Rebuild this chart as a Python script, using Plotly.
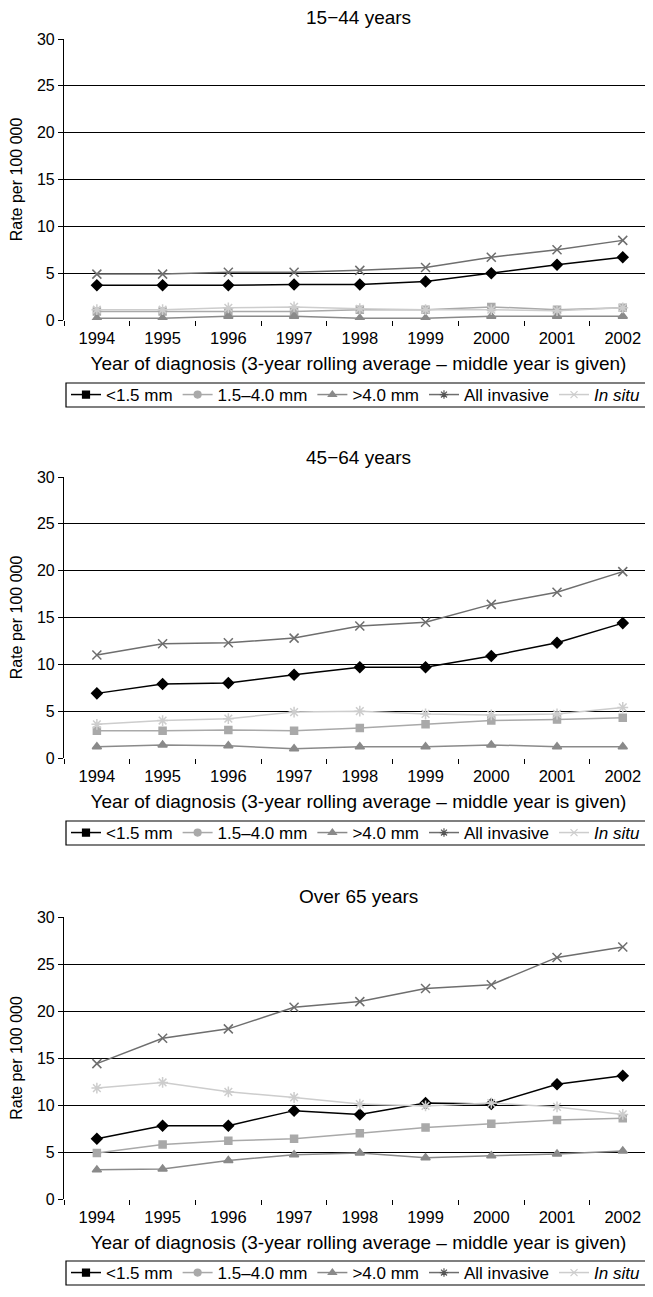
import plotly.graph_objects as go

years = ["1994", "1995", "1996", "1997", "1998", "1999", "2000", "2001", "2002"]
panel_titles = ["15\u221244 years", "45\u221264 years", "Over 65 years"]
series_names = ["<1.5 mm", "1.5\u20134.0 mm", ">4.0 mm", "All invasive", "<i>In situ</i>"]

# 15-44 years
p1_lt15 = [3.7, 3.7, 3.7, 3.8, 3.8, 4.1, 5.0, 5.9, 6.7]
p1_15to40 = [0.9, 0.9, 0.9, 0.9, 1.1, 1.1, 1.4, 1.1, 1.3]
p1_gt40 = [0.2, 0.2, 0.4, 0.4, 0.2, 0.2, 0.4, 0.4, 0.4]
p1_all = [4.9, 4.9, 5.1, 5.1, 5.3, 5.6, 6.7, 7.5, 8.5]
p1_insitu = [1.1, 1.1, 1.3, 1.4, 1.2, 1.1, 1.1, 1.0, 1.3]

# 45-64 years
p2_lt15 = [6.9, 7.9, 8.0, 8.9, 9.7, 9.7, 10.9, 12.3, 14.4]
p2_15to40 = [2.9, 2.9, 3.0, 2.9, 3.2, 3.6, 4.0, 4.1, 4.3]
p2_gt40 = [1.2, 1.4, 1.3, 1.0, 1.2, 1.2, 1.4, 1.2, 1.2]
p2_all = [11.0, 12.2, 12.3, 12.8, 14.1, 14.5, 16.4, 17.7, 19.9]
p2_insitu = [3.6, 4.0, 4.2, 4.9, 5.0, 4.7, 4.6, 4.7, 5.4]

# Over 65 years
p3_lt15 = [6.4, 7.8, 7.8, 9.4, 9.0, 10.2, 10.1, 12.2, 13.1]
p3_15to40 = [4.9, 5.8, 6.2, 6.4, 7.0, 7.6, 8.0, 8.4, 8.6]
p3_gt40 = [3.1, 3.2, 4.1, 4.7, 4.9, 4.4, 4.6, 4.8, 5.1]
p3_all = [14.4, 17.1, 18.1, 20.4, 21.0, 22.4, 22.8, 25.7, 26.8]
p3_insitu = [11.8, 12.4, 11.4, 10.8, 10.1, 9.9, 10.2, 9.8, 9.0]

panels = [
    [p1_lt15, p1_15to40, p1_gt40, p1_all, p1_insitu],
    [p2_lt15, p2_15to40, p2_gt40, p2_all, p2_insitu],
    [p3_lt15, p3_15to40, p3_gt40, p3_all, p3_insitu],
]

# styles for plotted lines (order: <1.5, 1.5-4.0, >4.0, all, in situ)
line_colors = ["#000000", "#a9a9a9", "#8a8a8a", "#6e6e6e", "#cdcdcd"]
plot_symbols = ["diamond", "square", "triangle-up", "x-thin-open", "asterisk-open"]
plot_sizes = [8, 7, 8, 9, 9]
# legend symbols as printed in the original legend
leg_colors = ["#000000", "#a9a9a9", "#8a8a8a", "#555555", "#cdcdcd"]
leg_symbols = ["square", "circle", "triangle-up", "asterisk-open", "x-thin-open"]

FONT = "Liberation Sans, Arial, sans-serif"
OFF = 8  # the page body margin shifts the figure by 8 px right and down
W = 653 - OFF
H = 1297 - OFF
# page pixel positions
tops = [39, 477, 917]
bottoms = [320, 758, 1199]
legend_boxes = [(383, 407), (821, 845), (1261, 1285)]
title_ys = [18, 457, 896]


def py(p):
    """page pixel row -> paper fraction"""
    return 1 - (p - OFF) / H


def px(p):
    """page pixel column -> paper fraction (plot area starts at page x=64)"""
    return (p - 64) / (W - (64 - OFF))


fig = go.Figure()
for i, data in enumerate(panels):
    ax = "" if i == 0 else str(i + 1)
    leg = "legend" if i == 0 else "legend" + str(i + 1)
    for j, vals in enumerate(data):
        fig.add_trace(go.Scatter(
            x=years, y=vals, mode="lines+markers",
            xaxis="x" + ax, yaxis="y" + ax, showlegend=False,
            line=dict(color=line_colors[j], width=1.5),
            marker=dict(symbol=plot_symbols[j], size=plot_sizes[j], color=line_colors[j],
                        line=dict(color=line_colors[j], width=1.5)),
        ))
    for j, name in enumerate(series_names):
        fig.add_trace(go.Scatter(
            x=[None], y=[None], mode="lines+markers", name=name,
            xaxis="x" + ax, yaxis="y" + ax, legend=leg, showlegend=True,
            line=dict(color=line_colors[j], width=1.5),
            marker=dict(symbol=leg_symbols[j], size=7, color=leg_colors[j],
                        line=dict(color=leg_colors[j], width=1.2)),
        ))

layout = dict(
    template="none",
    width=W, height=H,
    margin=dict(l=64 - OFF, r=0, t=0, b=0, autoexpand=False),
    paper_bgcolor="white", plot_bgcolor="white",
    font=dict(family=FONT, size=15, color="black"),
    hovermode=False,
    annotations=[],
    shapes=[],
)
for i in range(3):
    ax = "" if i == 0 else str(i + 1)
    layout["xaxis" + ax] = dict(
        type="category", range=[-0.5, 8.46], domain=[0, 1], anchor="y" + ax,
        tickson="boundaries", ticks="outside", ticklen=5, tickcolor="black", tickwidth=1,
        ticklabelstandoff=6,
        showgrid=False, showline=False, zeroline=False, automargin=False,
        tickfont=dict(size=16.5),
        title=dict(text="Year of diagnosis (3-year rolling average \u2013 middle year is given)",
                   font=dict(size=19), standoff=11),
        fixedrange=True,
    )
    layout["yaxis" + ax] = dict(
        range=[0, 30], dtick=5, domain=[py(bottoms[i]), py(tops[i])], anchor="x" + ax,
        showgrid=True, gridcolor="black", gridwidth=1.2,
        showline=True, linecolor="black", linewidth=1.2,
        ticks="outside", ticklen=5, tickcolor="black", tickwidth=1,
        zeroline=False, automargin=False, tickfont=dict(size=16),
        title=dict(text="Rate per 100 000", font=dict(size=16), standoff=10),
        fixedrange=True,
    )
    leg = "legend" if i == 0 else "legend" + str(i + 1)
    b0, b1 = legend_boxes[i]
    layout[leg] = dict(
        orientation="h", x=px(66), xanchor="left", y=py((b0 + b1) / 2), yanchor="middle",
        borderwidth=0, bgcolor="rgba(0,0,0,0)",
        font=dict(size=17), itemwidth=30, tracegroupgap=0,
    )
    layout["shapes"].append(dict(
        type="rect", xref="paper", yref="paper",
        x0=px(66), x1=px(670), y0=py(b1), y1=py(b0),
        line=dict(color="black", width=1.2), fillcolor="rgba(0,0,0,0)",
    ))
    layout["annotations"].append(dict(
        text=panel_titles[i], xref="paper", yref="paper", x=0.5,
        y=py(title_ys[i]),
        xanchor="center", yanchor="middle", showarrow=False, font=dict(size=19),
    ))

fig.update_layout(**layout)
fig.write_html("out.html")
